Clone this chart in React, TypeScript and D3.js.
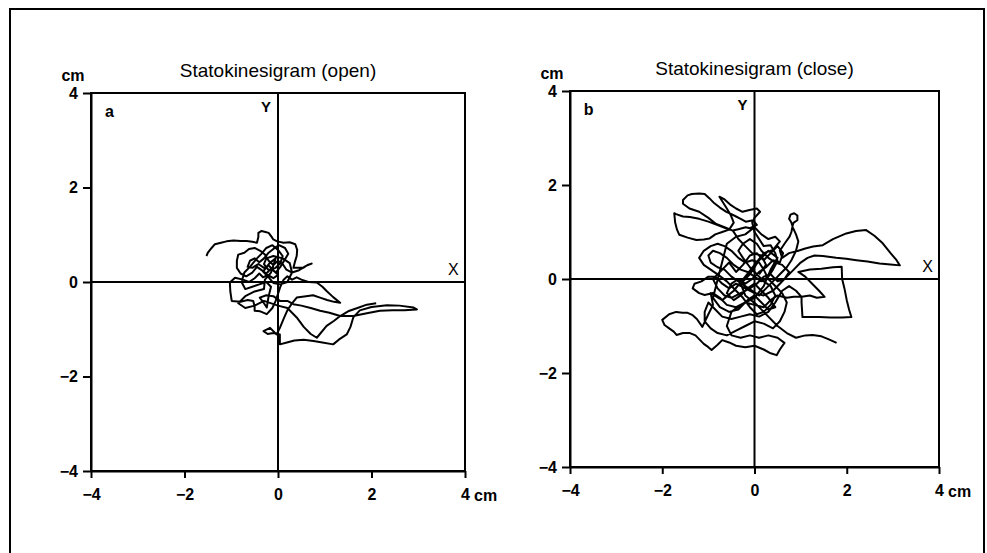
import React, { useEffect, useRef } from 'react';
import * as d3 from 'd3';

// tick values shared by both panels (cm)
const tickValues = [-4, -2, 0, 2, 4];

const titles = ['Statokinesigram (open)', 'Statokinesigram (close)'];
const panelLetters = ['a', 'b'];

// eyes open: traced centre-of-pressure path [x, y] in cm
const pathOpen: [number, number][] = [
  [-1.53, 0.55], [-1.5, 0.62], [-1.42, 0.72], [-1.35, 0.8], [-1.22, 0.83], [-1.1, 0.86], [-0.95, 0.88],
  [-0.8, 0.87], [-0.67, 0.87], [-0.55, 0.85], [-0.45, 0.83], [-0.42, 0.95], [-0.42, 1.04], [-0.35, 1.08],
  [-0.27, 1.06], [-0.2, 1.04], [-0.14, 0.96], [-0.1, 0.9], [-0.02, 0.86], [0.12, 0.83], [0.25, 0.84],
  [0.37, 0.8], [0.41, 0.68], [0.4, 0.55], [0.36, 0.42], [0.33, 0.3], [0.42, 0.3], [0.54, 0.3],
  [0.63, 0.36], [0.72, 0.39], [0.6, 0.34], [0.45, 0.25], [0.3, 0.2], [0.18, 0.26], [0.1, 0.38],
  [0.0, 0.45], [-0.1, 0.36], [-0.2, 0.45], [-0.28, 0.58], [-0.38, 0.66], [-0.5, 0.72], [-0.62, 0.7],
  [-0.72, 0.62], [-0.85, 0.58], [-0.88, 0.45], [-0.88, 0.3], [-0.8, 0.18], [-0.68, 0.12], [-0.55, 0.2],
  [-0.45, 0.32], [-0.35, 0.25], [-0.25, 0.18], [-0.15, 0.28], [-0.05, 0.2], [0.05, 0.32], [0.15, 0.48],
  [0.22, 0.6], [0.15, 0.72], [0.02, 0.78], [-0.1, 0.7], [-0.2, 0.62], [-0.3, 0.5], [-0.4, 0.42],
  [-0.5, 0.5], [-0.6, 0.45], [-0.65, 0.32], [-0.55, 0.3], [-0.42, 0.38], [-0.3, 0.3], [-0.2, 0.35],
  [-0.1, 0.25], [0.0, 0.15], [-0.1, 0.08], [-0.22, 0.15], [-0.32, 0.1], [-0.4, 0.18], [-0.5, 0.08],
  [-0.62, 0.0], [-0.75, 0.05], [-0.92, 0.09], [-1.03, -0.01], [-1.02, -0.2], [-0.99, -0.4], [-0.8, -0.42],
  [-0.65, -0.38], [-0.53, -0.4], [-0.5, -0.52], [-0.5, -0.61], [-0.38, -0.62], [-0.24, -0.68],
  [-0.12, -0.55], [-0.05, -0.4], [0.0, -0.25], [0.05, -0.1], [0.12, 0.05], [0.2, 0.12], [0.3, 0.05],
  [0.4, 0.1], [0.5, 0.05], [0.65, 0.0], [0.83, -0.01], [0.95, -0.1], [1.04, -0.19], [1.18, -0.32],
  [1.33, -0.44], [1.2, -0.42], [1.05, -0.38], [0.9, -0.33], [0.75, -0.28], [0.6, -0.3], [0.4, -0.33],
  [0.3, -0.45], [0.2, -0.6], [0.12, -0.78], [0.04, -0.97], [-0.03, -1.11], [-0.17, -0.97], [-0.31, -1.04],
  [-0.22, -1.1], [-0.1, -1.08], [0.04, -1.11], [0.04, -1.32], [0.19, -1.28], [0.35, -1.24], [0.55, -1.22],
  [0.76, -1.25], [0.95, -1.28], [1.18, -1.32], [1.3, -1.22], [1.47, -1.11], [1.55, -0.95], [1.61, -0.75],
  [1.75, -0.6], [2.0, -0.53], [2.33, -0.49], [2.6, -0.5], [2.9, -0.54], [2.97, -0.58], [2.7, -0.6],
  [2.45, -0.6], [2.18, -0.61], [1.9, -0.66], [1.61, -0.72], [1.33, -0.72], [1.1, -0.65], [0.9, -0.61],
  [0.7, -0.55], [0.5, -0.5], [0.33, -0.47], [0.2, -0.4], [0.04, -0.4], [-0.1, -0.3], [-0.25, -0.28],
  [-0.39, -0.33], [-0.3, -0.45], [-0.24, -0.54], [-0.2, -0.3], [-0.15, -0.1], [-0.25, 0.0], [-0.4, -0.05],
  [-0.55, -0.1], [-0.7, -0.15], [-0.78, 0.0], [-0.72, 0.2], [-0.6, 0.32], [-0.45, 0.5], [-0.35, 0.6],
  [-0.25, 0.72], [-0.12, 0.78], [0.0, 0.68], [0.1, 0.55], [0.05, 0.4], [-0.05, 0.3], [-0.2, 0.25],
  [-0.3, 0.38], [-0.25, 0.5], [-0.1, 0.55], [0.1, 0.5], [0.25, 0.4], [0.3, 0.2], [0.2, 0.0],
  [0.05, -0.05], [-0.1, -0.02], [-0.2, 0.1], [-0.32, 0.22], [-0.18, 0.4], [-0.05, 0.5], [-0.15, 0.2],
  [-0.28, 0.05], [-0.3, -0.15], [-0.5, -0.2], [-0.7, -0.3], [-0.85, -0.45],
  [-0.7, -0.55], [-0.5, -0.5], [-0.3, -0.4], [0.0, -0.5], [0.2, -0.55], [0.4, -0.75], [0.55, -0.95],
  [0.7, -1.1], [0.83, -1.18], [1.04, -0.93], [1.2, -0.82], [1.33, -0.72], [1.5, -0.62], [1.7, -0.55],
  [1.9, -0.48], [2.1, -0.45],
];

// eyes closed
const pathClose: [number, number][] = [
  [0.1, 0.1], [0.25, 0.3], [0.15, 0.5], [-0.05, 0.55], [-0.2, 0.7], [-0.35, 0.85], [-0.47, 1.03],
  [-0.65, 1.1], [-0.83, 1.17], [-1.0, 1.3], [-1.2, 1.43], [-1.41, 1.5], [-1.55, 1.6], [-1.55, 1.68],
  [-1.45, 1.78], [-1.36, 1.81], [-1.2, 1.82], [-1.08, 1.81], [-0.98, 1.72], [-0.87, 1.61], [-0.75, 1.52],
  [-0.61, 1.43], [-0.5, 1.38], [-0.4, 1.33], [-0.3, 1.28], [-0.19, 1.22], [-0.03, 1.25], [0.05, 1.15],
  [-0.1, 1.08], [-0.19, 1.1], [-0.35, 1.06], [-0.47, 1.03], [-0.62, 1.08], [-0.8, 1.15], [-1.0, 1.22],
  [-1.2, 1.28], [-1.4, 1.32], [-1.55, 1.33], [-1.7, 1.38], [-1.74, 1.4], [-1.72, 1.2], [-1.68, 1.05],
  [-1.63, 0.94], [-1.45, 0.88], [-1.26, 0.83], [-1.1, 0.84], [-0.98, 0.86], [-0.85, 0.95], [-0.7, 1.0],
  [-0.55, 1.05], [-0.45, 1.2], [-0.51, 1.35], [-0.6, 1.5], [-0.76, 1.75], [-0.66, 1.7], [-0.51, 1.57],
  [-0.4, 1.5], [-0.26, 1.43], [-0.11, 1.47], [0.05, 1.5], [0.12, 1.43], [0.0, 1.3], [-0.05, 1.2],
  [0.0, 1.0], [0.1, 0.85], [0.2, 0.7], [0.35, 0.72], [0.45, 0.55], [0.5, 0.38], [0.4, 0.2],
  [0.3, 0.05], [0.15, -0.05], [0.0, 0.05], [-0.15, 0.15], [-0.3, 0.2], [-0.45, 0.3], [-0.6, 0.45],
  [-0.75, 0.55], [-0.9, 0.6], [-1.0, 0.5], [-0.95, 0.35], [-0.8, 0.25], [-0.65, 0.2], [-0.5, 0.05],
  [-0.35, -0.05], [-0.2, -0.15], [-0.05, -0.25], [0.1, -0.35], [0.25, -0.2], [0.4, -0.05], [0.55, 0.1],
  [0.7, 0.25], [0.8, 0.4], [0.9, 0.6], [0.95, 0.8], [0.9, 0.95], [0.83, 1.1], [0.8, 1.2],
  [0.75, 1.28], [0.78, 1.37], [0.86, 1.4], [0.93, 1.35], [0.93, 1.25], [0.85, 1.2], [0.83, 1.15],
  [0.8, 1.0], [0.76, 0.9], [0.65, 0.75], [0.55, 0.6], [0.6, 0.45], [0.75, 0.55], [0.95, 0.6],
  [1.1, 0.65], [1.27, 0.69], [1.48, 0.72], [1.7, 0.85], [1.99, 0.97], [2.2, 1.02], [2.42, 1.04],
  [2.6, 0.92], [2.78, 0.76], [2.95, 0.55], [3.08, 0.4], [3.15, 0.29], [2.95, 0.31], [2.71, 0.33],
  [2.45, 0.37], [2.21, 0.4], [1.99, 0.43], [1.77, 0.45], [1.48, 0.49], [1.3, 0.5], [1.15, 0.45],
  [1.0, 0.35], [0.85, 0.2], [0.7, 0.05], [0.55, -0.1], [0.4, -0.25], [0.2, -0.35], [0.0, -0.3],
  [-0.2, -0.2], [-0.4, -0.1], [-0.55, -0.2], [-0.7, -0.1], [-0.85, 0.05], [-1.0, 0.05], [-1.15, -0.05],
  [-1.3, -0.1], [-1.34, -0.2], [-1.2, -0.3], [-1.08, -0.34], [-0.9, -0.3], [-0.75, -0.4], [-0.6, -0.55],
  [-0.4, -0.6], [-0.2, -0.5], [0.0, -0.55], [0.2, -0.6], [0.35, -0.45], [0.5, -0.35], [0.7, -0.4],
  [0.85, -0.38], [1.02, -0.38], [1.2, -0.35], [1.35, -0.4], [1.52, -0.38], [1.4, -0.25], [1.25, -0.1],
  [1.1, 0.05], [0.95, 0.15], [1.2, 0.2], [1.45, 0.22], [1.7, 0.25], [1.89, 0.26], [1.9, 0.0],
  [1.95, -0.2], [2.0, -0.45], [2.05, -0.65], [2.1, -0.81], [1.9, -0.82], [1.65, -0.82], [1.4, -0.81],
  [1.2, -0.81], [1.04, -0.81], [1.03, -0.65], [1.02, -0.5], [1.02, -0.38], [0.9, -0.25], [0.75, -0.15],
  [0.6, -0.25], [0.45, -0.5], [0.3, -0.7], [0.1, -0.8], [-0.1, -0.75], [-0.3, -0.8], [-0.5, -0.85],
  [-0.7, -0.8], [-0.85, -0.65], [-1.0, -0.5], [-1.08, -0.7], [-1.08, -0.9], [-0.95, -1.05], [-0.8, -1.15],
  [-0.6, -1.2], [-0.4, -1.1], [-0.2, -1.0], [0.0, -0.9], [0.2, -0.95], [0.4, -1.05], [0.55, -0.9],
  [0.65, -0.7], [0.7, -0.5], [0.6, -0.3], [0.45, -0.15], [0.3, 0.0], [0.2, 0.2], [0.1, 0.35],
  [-0.05, 0.4], [-0.2, 0.35], [-0.35, 0.45], [-0.5, 0.6], [-0.65, 0.7], [-0.8, 0.75], [-0.95, 0.7],
  [-1.1, 0.6], [-1.2, 0.45], [-1.1, 0.3], [-0.95, 0.2], [-0.8, 0.1], [-0.6, -0.05], [-0.4, -0.25],
  [-0.25, -0.4], [-0.1, -0.6], [0.05, -0.75], [0.2, -0.7], [0.35, -0.55], [0.45, -0.35], [0.35, -0.15],
  [0.2, -0.05], [0.05, 0.1], [-0.1, 0.25], [-0.25, 0.45], [-0.35, 0.6], [-0.25, 0.75], [-0.1, 0.85],
  [0.05, 0.75], [0.15, 0.6], [0.3, 0.45], [0.45, 0.35], [0.6, 0.3], [0.75, 0.15], [0.65, 0.0],
  [0.5, -0.05], [0.35, 0.1], [0.2, 0.05], [0.05, -0.1], [-0.1, -0.2], [-0.3, -0.3], [-0.5, -0.4],
  [-0.65, -0.35], [-0.8, -0.2], [-0.9, 0.0], [-0.7, 0.2], [-0.55, 0.35], [-0.4, 0.15], [-0.25, 0.3],
  [-0.1, 0.5], [0.05, 0.55], [0.2, 0.4], [0.35, 0.55], [0.5, 0.7], [0.62, 0.55], [0.55, 0.35],
  [0.4, 0.4], [0.25, 0.25], [0.1, 0.15], [-0.05, 0.0], [-0.2, -0.1], [-0.35, 0.0], [-0.5, -0.1],
  [-0.6, -0.3], [-0.45, -0.45], [-0.3, -0.35], [-0.15, -0.2], [0.0, -0.1], [0.15, -0.25], [0.3, -0.4],
  [0.45, -0.6], [0.3, -0.65], [0.15, -0.5], [0.0, -0.35], [-0.15, -0.45], [-0.35, -0.65], [-0.55, -0.7],
  [-0.75, -0.6], [-0.9, -0.4], [-0.6, 0.75], [-0.4, 0.9], [-0.2, 0.95], [0.0, 1.1], [0.15, 0.95],
  [0.3, 0.85], [0.45, 0.9], [0.55, 0.8], [0.4, 0.62], [0.2, 0.55], [0.0, 0.3], [-0.2, 0.05],
  [-0.45, -0.25], [-0.7, -0.45], [-0.95, -0.3], [-0.9, -0.55], [-1.0, -0.75], [-1.13, -1.02],
  [-1.25, -0.85], [-1.34, -0.77], [-1.45, -0.72], [-1.56, -0.72], [-1.7, -0.7], [-1.85, -0.75],
  [-2.0, -0.87], [-1.95, -0.98], [-1.85, -1.05], [-1.75, -1.12], [-1.69, -1.19], [-1.55, -1.15],
  [-1.4, -1.15], [-1.28, -1.2], [-1.2, -1.28], [-1.1, -1.38], [-1.0, -1.45], [-0.93, -1.51], [-0.8, -1.4],
  [-0.7, -1.3], [-0.55, -1.35], [-0.4, -1.42], [-0.2, -1.45], [0.0, -1.42], [0.2, -1.5], [0.35, -1.58],
  [0.48, -1.62], [0.55, -1.5], [0.65, -1.36], [0.5, -1.25], [0.3, -1.2], [0.1, -1.25], [-0.1, -1.2],
  [-0.3, -1.25], [-0.5, -1.2], [-0.6, -1.0], [-0.5, -0.7], [-0.3, -0.55], [0.0, -0.4], [0.2, -0.15],
  [0.35, 0.2], [0.5, 0.45], [0.3, 0.6], [0.1, 0.4], [-0.1, 0.1], [-0.3, -0.1], [-0.2, -0.35],
  [0.05, -0.55], [0.3, -0.8], [0.5, -1.0], [0.7, -1.15], [0.9, -1.25], [1.1, -1.2], [1.26, -1.19],
  [1.45, -1.22], [1.6, -1.28], [1.78, -1.36],
];

const paths = [pathOpen, pathClose];

export default function App() {
  const ref = useRef<SVGSVGElement>(null);

  useEffect(() => {
    const svg = d3.select(ref.current);
    svg.selectAll('*').remove();
    const font = 'Liberation Sans, Arial, sans-serif';

    // outer frame of the figure
    svg.append('rect')
      .attr('x', 10).attr('y', 9)
      .attr('width', 974).attr('height', 600)
      .attr('fill', 'none').attr('stroke', '#000').attr('stroke-width', 2);

    // pixel boxes of the two panels
    const boxes = [
      { left: 91, right: 465, top: 93, bottom: 471 },
      { left: 570, right: 939, top: 91, bottom: 467 },
    ];

    boxes.forEach((b, i) => {
      const x = d3.scaleLinear().domain([-4, 4]).range([b.left, b.right]);
      const y = d3.scaleLinear().domain([-4, 4]).range([b.bottom, b.top]);
      const g = svg.append('g');

      // plot box
      g.append('rect')
        .attr('x', x(-4)).attr('y', y(4))
        .attr('width', x(4) - x(-4)).attr('height', y(-4) - y(4))
        .attr('fill', 'none').attr('stroke', '#000').attr('stroke-width', 2);

      // cross hairs
      g.append('line')
        .attr('x1', x(0)).attr('x2', x(0)).attr('y1', y(4)).attr('y2', y(-4))
        .attr('stroke', '#000').attr('stroke-width', 2);
      g.append('line')
        .attr('x1', x(-4)).attr('x2', x(4)).attr('y1', y(0)).attr('y2', y(0))
        .attr('stroke', '#000').attr('stroke-width', 2);

      // axes
      const xAxis = g.append('g')
        .attr('transform', `translate(0,${y(-4)})`)
        .call(d3.axisBottom(x).tickValues(tickValues).tickSize(7).tickSizeOuter(0).tickPadding(11));
      const yAxis = g.append('g')
        .attr('transform', `translate(${x(-4)},0)`)
        .call(d3.axisLeft(y).tickValues(tickValues).tickSize(8).tickSizeOuter(0).tickPadding(5));
      [xAxis, yAxis].forEach((ax) => {
        ax.select('.domain').attr('stroke-width', 2);
        ax.selectAll('.tick line').attr('stroke-width', 2);
        ax.selectAll('.tick text')
          .attr('font-family', font)
          .attr('font-size', 16).attr('font-weight', 'bold').attr('fill', '#000');
      });

      // unit labels
      g.append('text')
        .attr('x', x(4) + 9).attr('y', y(-4) + 30)
        .attr('font-family', font).attr('font-size', 16).attr('font-weight', 'bold')
        .text('cm');
      g.append('text')
        .attr('x', x(-4) - 18).attr('y', y(4) - 12)
        .attr('text-anchor', 'middle')
        .attr('font-family', font).attr('font-size', 16).attr('font-weight', 'bold')
        .text('cm');

      // title
      g.append('text')
        .attr('x', x(0)).attr('y', y(4) - 16)
        .attr('text-anchor', 'middle')
        .attr('font-family', font).attr('font-size', 19)
        .text(titles[i]);

      // panel letter and axis names
      g.append('text')
        .attr('x', x(-3.7)).attr('y', y(3.5))
        .attr('font-family', font).attr('font-size', 16).attr('font-weight', 'bold')
        .text(panelLetters[i]);
      g.append('text')
        .attr('x', x(-0.15)).attr('y', y(3.6))
        .attr('text-anchor', 'end')
        .attr('font-family', font).attr('font-size', 15).attr('font-weight', 'bold')
        .text('Y');
      g.append('text')
        .attr('x', x(3.75)).attr('y', y(0.15))
        .attr('text-anchor', 'middle')
        .attr('font-family', font).attr('font-size', 16)
        .text('X');

      // trajectory
      const line = d3.line<[number, number]>()
        .x((d) => x(d[0]))
        .y((d) => y(d[1]));
      g.append('path')
        .datum(paths[i])
        .attr('d', line)
        .attr('fill', 'none')
        .attr('stroke', '#000')
        .attr('stroke-width', 2)
        .attr('stroke-linejoin', 'round');
    });
  }, []);

  return (
    <svg
      ref={ref}
      width={987}
      height={553}
      style={{ position: 'absolute', left: 0, top: 0, background: '#fff' }}
    />
  );
}
